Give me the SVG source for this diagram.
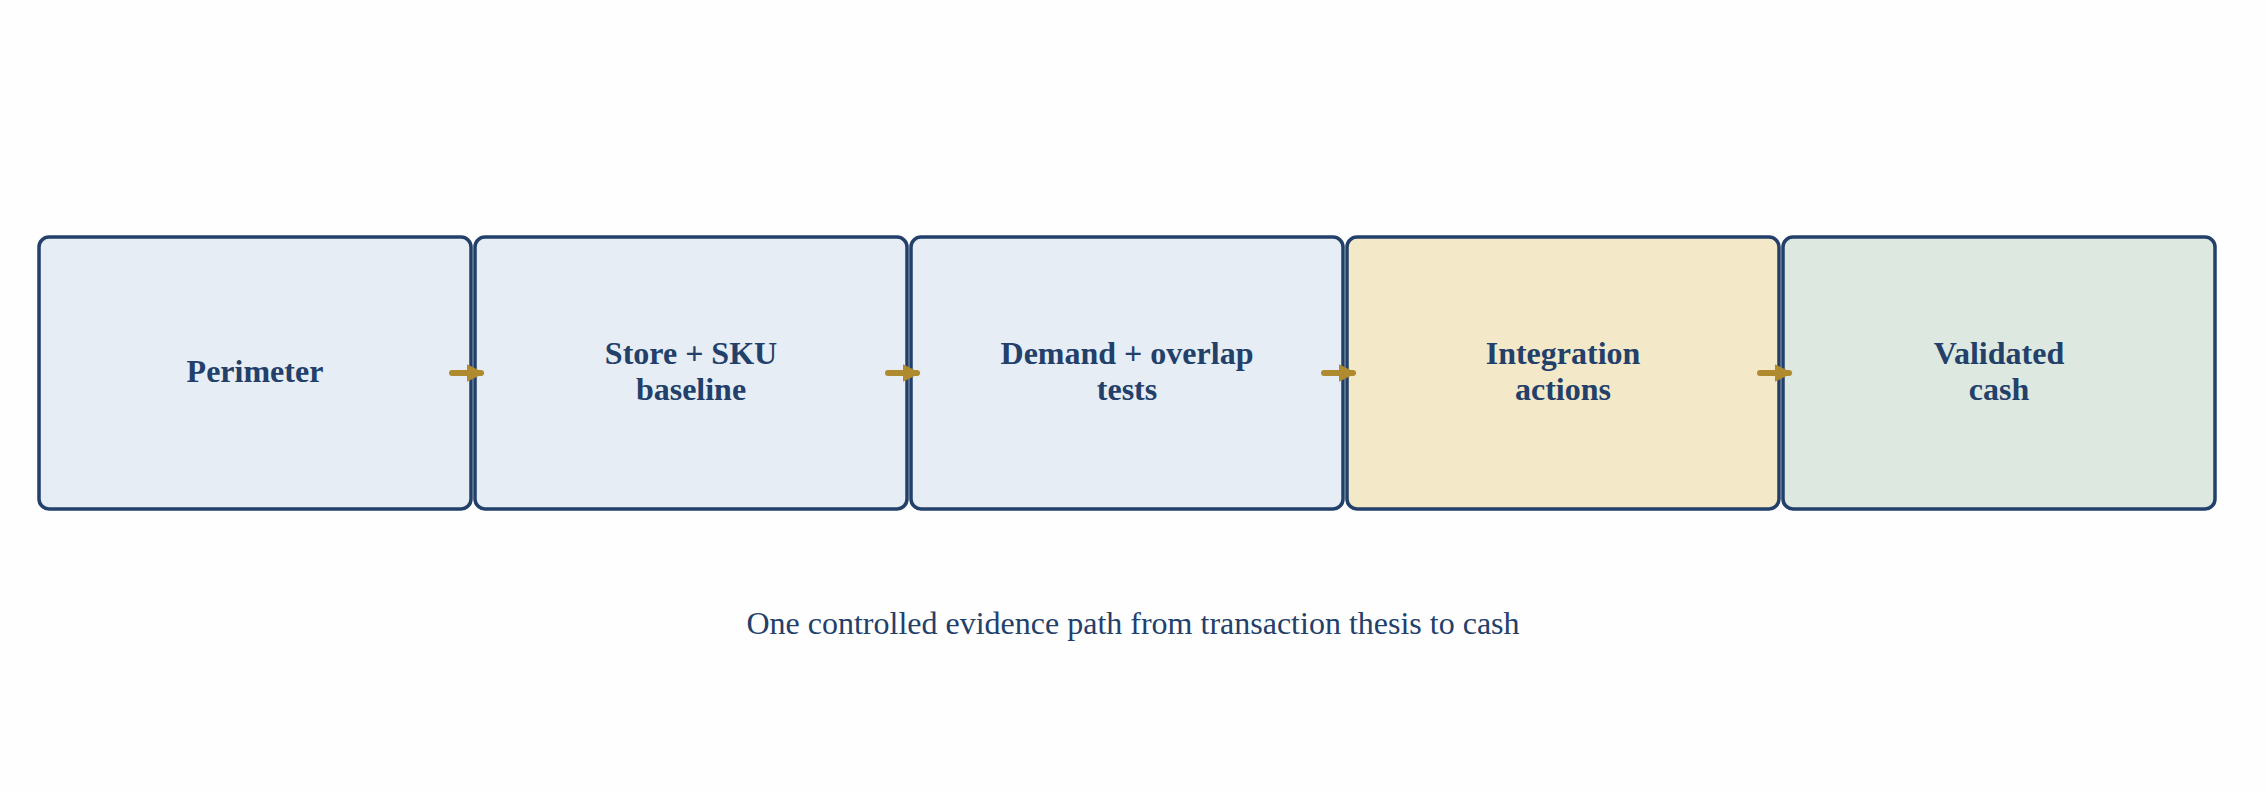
<svg xmlns="http://www.w3.org/2000/svg" width="2266" height="792" viewBox="0 0 2266 792">
<style>
.b{stroke:#22406A;stroke-width:3.5}
.t{font-family:"Liberation Serif",serif;font-weight:bold;font-size:32px;fill:#22406A;text-anchor:middle}
.c{stroke:#B08A2E;stroke-width:6;stroke-linecap:round;fill:none}
</style>
<defs><marker id="a" viewBox="0 0 10 10" refX="8" refY="5" markerWidth="3" markerHeight="3" orient="auto"><path d="M0,0 L10,5 L0,10 z" fill="#B08A2E"/></marker></defs>
<rect width="2266" height="792" fill="#FEFEFE"/>
<g id="n1"><rect class="b" x="39" y="237" width="432" height="272" rx="10" fill="#E6EDF5"/><text class="t" x="255" y="382">Perimeter</text></g>
<g id="n2"><rect class="b" x="475" y="237" width="432" height="272" rx="10" fill="#E6EDF5"/><text class="t" x="691" y="364">Store + SKU</text><text class="t" x="691" y="400">baseline</text></g>
<g id="n3"><rect class="b" x="911" y="237" width="432" height="272" rx="10" fill="#E6EDF5"/><text class="t" x="1127" y="364">Demand + overlap</text><text class="t" x="1127" y="400">tests</text></g>
<g id="n4"><rect class="b" x="1347" y="237" width="432" height="272" rx="10" fill="#F3E8C8"/><text class="t" x="1563" y="364">Integration</text><text class="t" x="1563" y="400">actions</text></g>
<g id="n5"><rect class="b" x="1783" y="237" width="432" height="272" rx="10" fill="#DCE8E0"/><text class="t" x="1999" y="364">Validated</text><text class="t" x="1999" y="400">cash</text></g>
<g id="connectors">
<path class="c" d="M452,373 H481" marker-end="url(#a)"/>
<path class="c" d="M888,373 H917" marker-end="url(#a)"/>
<path class="c" d="M1324,373 H1353" marker-end="url(#a)"/>
<path class="c" d="M1760,373 H1789" marker-end="url(#a)"/>
</g>
<text x="1133" y="634" font-family="Liberation Serif,serif" font-size="32" fill="#22406A" text-anchor="middle">One controlled evidence path from transaction thesis to cash</text>
</svg>
